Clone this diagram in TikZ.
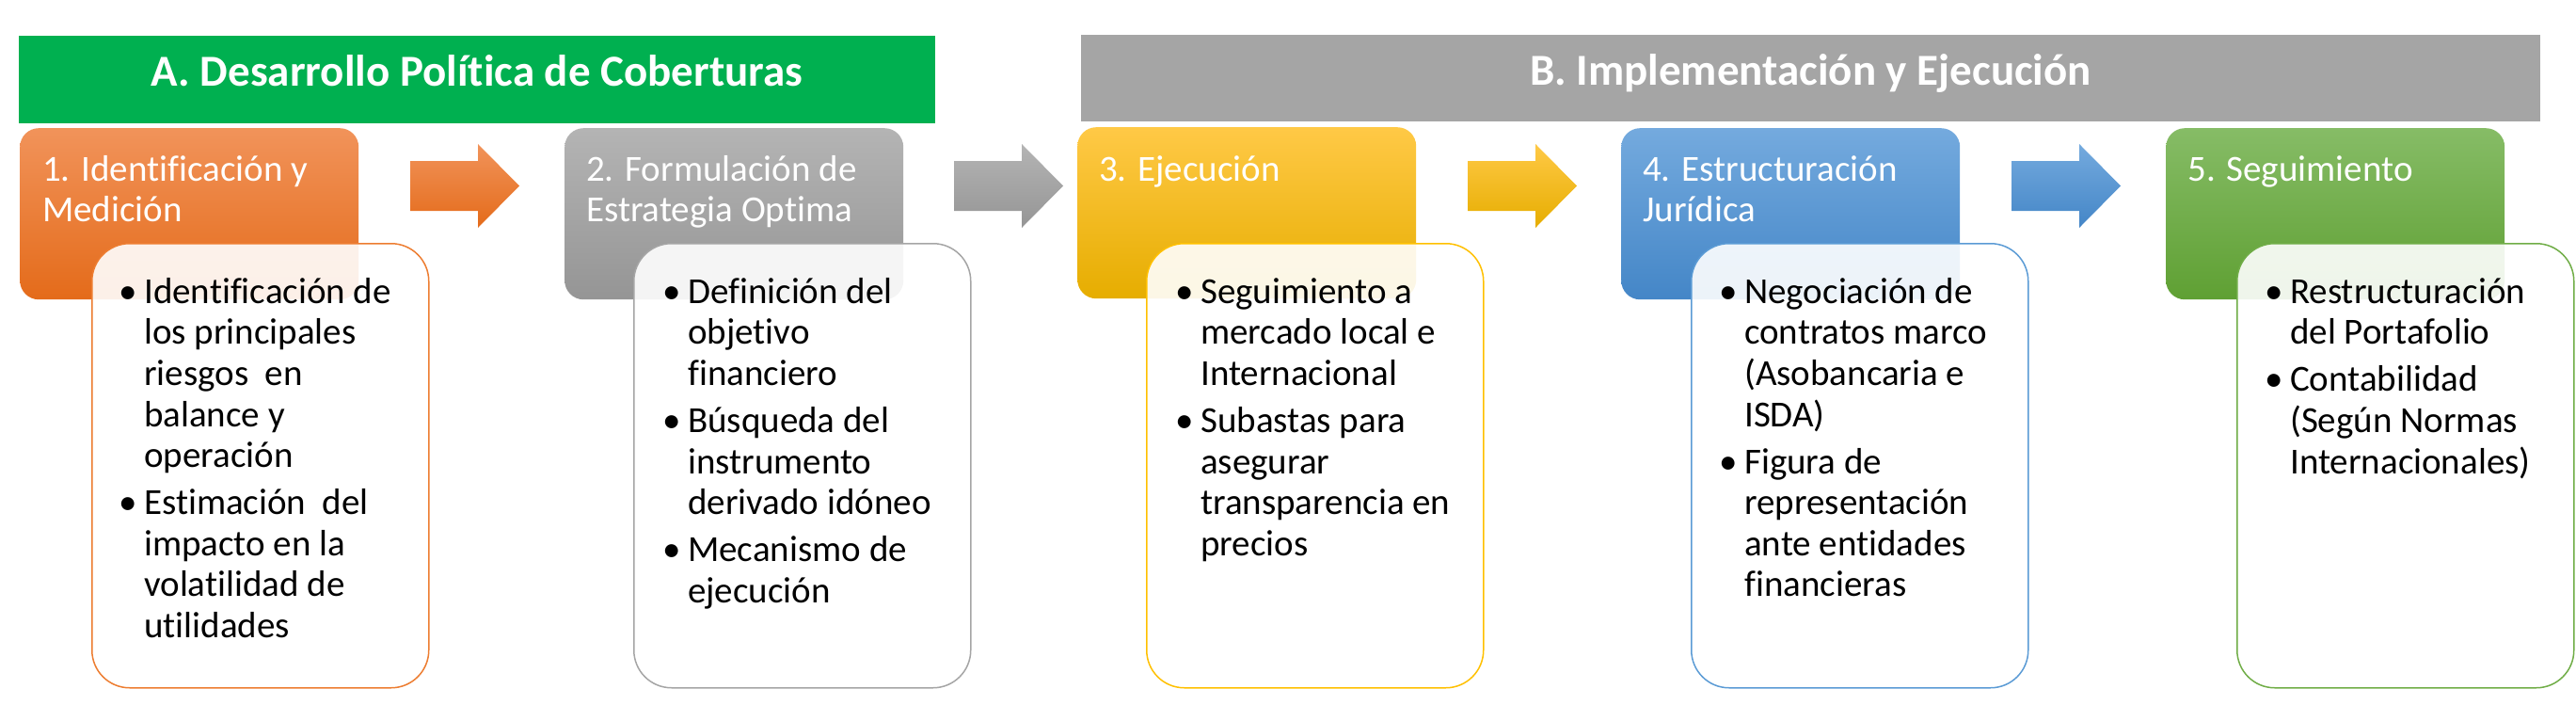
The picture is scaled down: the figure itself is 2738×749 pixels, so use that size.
\documentclass[tikz,border=0pt]{standalone}
\usepackage{fontspec}
\setmainfont[Ligatures=NoCommon]{Carlito}
\definecolor{barA}{HTML}{00B050}
\definecolor{barB}{HTML}{A5A5A5}
\definecolor{orT}{HTML}{F1935A}\definecolor{orM}{HTML}{F47D2A}\definecolor{orB}{HTML}{E46B1A}\definecolor{orL}{HTML}{ED7D31}
\definecolor{grT}{HTML}{B4B4B4}\definecolor{grM}{HTML}{A6A6A6}\definecolor{grB}{HTML}{959595}\definecolor{grL}{HTML}{A5A5A5}
\definecolor{yeT}{HTML}{FFC946}\definecolor{yeM}{HTML}{FFC000}\definecolor{yeB}{HTML}{E6AD00}\definecolor{yeL}{HTML}{FFC000}
\definecolor{blT}{HTML}{74AADE}\definecolor{blM}{HTML}{5B9BD5}\definecolor{blB}{HTML}{4486C7}\definecolor{blL}{HTML}{5B9BD5}
\definecolor{gnT}{HTML}{86BC66}\definecolor{gnM}{HTML}{70AD47}\definecolor{gnB}{HTML}{5FA033}\definecolor{gnL}{HTML}{70AD47}
\newcommand\firstline{\rule{0pt}{40pt}}
\newcommand\bul{\llap{\textbullet\hspace{7pt}}}
\tikzset{
  bar/.style={draw=none, minimum height=93, inner sep=0, anchor=north west},
  titletext/.style={anchor=base, inner sep=0, text=white, font=\fontsize{47}{52}\selectfont\bfseries},
  stepbox/.style={draw=none, rounded corners=20, minimum width=360, minimum height=182, inner sep=0, anchor=north west},
  detbox/.style={fill=white, fill opacity=0.9, line width=1.5, rounded corners=40, minimum width=358, minimum height=472, inner sep=0, anchor=north west},
  hdr/.style={anchor=north west, inner sep=0, text=white, align=left, font=\fontsize{39}{43}\selectfont},
  det/.style={anchor=north west, inner sep=0, text=black, align=left, font=\fontsize{39}{43.6}\selectfont},
}
\newcommand\blockarrow[4]{%
  \path[top color=#2, middle color=#3, bottom color=#4]
    (#1,171) -- (#1+72,171) -- (#1+72,153) -- (#1+116,197.5) -- (#1+72,242) -- (#1+72,224) -- (#1,224) -- cycle;}
\begin{document}
\begin{tikzpicture}[x=1pt,y=-1pt]
\useasboundingbox (0,0) rectangle (2738,749);
% title bars
\node[bar, fill=barA, minimum width=974] (barA) at (20,38) {};
\node[titletext] (tA) at (507,92) {A. Desarrollo Política de Coberturas};
\node[bar, fill=barB, minimum width=1551, minimum height=92] (barB) at (1149,37) {};
\node[titletext] (tB) at (1924.5,91) {B. Implementación y Ejecución};
% step boxes
\node[stepbox, top color=orT, middle color=orM, bottom color=orB] (b1) at (21,136) {};
\node[stepbox, top color=grT, middle color=grM, bottom color=grB] (b2) at (600,136) {};
\node[stepbox, top color=yeT, middle color=yeM, bottom color=yeB] (b3) at (1145,135) {};
\node[stepbox, top color=blT, middle color=blM, bottom color=blB] (b4) at (1723,136) {};
\node[stepbox, top color=gnT, middle color=gnM, bottom color=gnB] (b5) at (2302,136) {};
% arrows
\blockarrow{436}{orT}{orM}{orB}
\blockarrow{1014}{grT}{grM}{grB}
\blockarrow{1560}{yeT}{yeM}{yeB}
\blockarrow{2138}{blT}{blM}{blB}
% detail boxes
\node[detbox, draw=orL] (d1) at (97,258) {};
\node[detbox, draw=grL] (d2) at (673,258) {};
\node[detbox, draw=yeL] (d3) at (1218,258) {};
\node[detbox, draw=blL] (d4) at (1797,258) {};
\node[detbox, draw=gnL] (d5) at (2377,258) {};
% headers
\node[hdr] (h1) at (45,152) {\firstline 1. Identificación y\\Medición};
\node[hdr] (h2) at (623,152) {\firstline 2. Formulación de\\Estrategia Optima};
\node[hdr] (h3) at (1168,152) {\firstline 3. Ejecución};
\node[hdr] (h4) at (1746,152) {\firstline 4. Estructuración\\Jurídica};
\node[hdr] (h5) at (2325,152) {\firstline 5. Seguimiento};
% details
\node[det] (t1) at (153,282) {\firstline\bul Identificación de\\los principales\\riesgos\ \ en\\balance y\\operación\\[6.5pt]\bul Estimación\ \ del\\impacto en la\\volatilidad de\\utilidades};
\node[det] (t2) at (731,282) {\firstline\bul Definición del\\objetivo\\financiero\\[6.5pt]\bul Búsqueda del\\instrumento\\derivado idóneo\\[6.5pt]\bul Mecanismo de\\ejecución};
\node[det] (t3) at (1276,282) {\firstline\bul Seguimiento a\\mercado local e\\Internacional\\[6.5pt]\bul Subastas para\\asegurar\\transparencia en\\precios};
\node[det] (t4) at (1854,282) {\firstline\bul Negociación de\\contratos marco\\(Asobancaria e\\ISDA)\\[6.5pt]\bul Figura de\\representación\\ante entidades\\financieras};
\node[det] (t5) at (2434,282) {\firstline\bul Restructuración\\del Portafolio\\[6.5pt]\bul Contabilidad\\(Según Normas\\Internacionales)};
\end{tikzpicture}
\end{document}
